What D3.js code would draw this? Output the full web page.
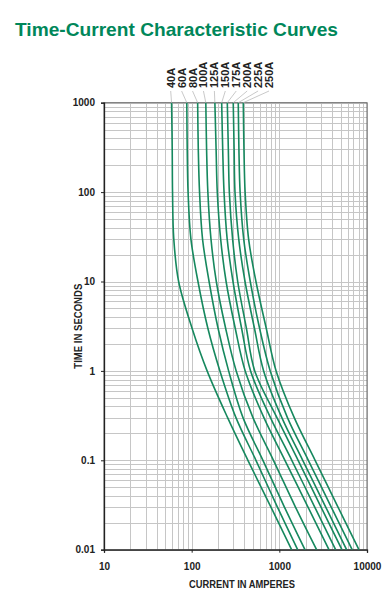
<!DOCTYPE html>
<html>
<head>
<meta charset="utf-8">
<script src="https://cdn.jsdelivr.net/npm/d3@7"></script>
<style>
  body { margin: 0; background: #fff; }
  svg text { font-family: "Liberation Sans", Arial, sans-serif; font-weight: bold; }
</style>
</head>
<body>
<svg id="chart" width="389" height="603"></svg>
<script>
const times = [1000, 300, 100, 30, 10, 3, 1, 0.3, 0.1, 0.03, 0.01];

// Fuse ratings, left to right
const fuseNames = ["40A", "60A", "80A", "100A", "125A", "150A", "175A", "200A", "225A", "250A"];

// Current (A) for each fuse at the times above
const amps40A  = [59, 60, 60.5, 62.5, 71, 101, 150, 257, 438, 802, 1380];
const amps60A  = [88, 89, 91, 98, 118, 153, 210, 320, 541, 951, 1617];
const amps80A  = [117, 119, 123, 133, 158, 200, 264, 385, 650, 1143, 1960];
const amps100A = [145, 148, 153, 166, 191, 244, 322, 500, 857, 1527, 2660];
const amps125A = [184, 190, 196, 214, 247, 314, 408, 667, 1158, 2123, 3680];
const amps150A = [220, 226, 234, 254, 296, 371, 470, 792, 1388, 2533, 4385];
const amps175A = [255, 262, 269, 293, 335, 421, 524, 939, 1638, 2989, 5175];
const amps200A = [298, 305, 312, 344, 406, 520, 662, 1068, 1849, 3381, 5850];
const amps225A = [340, 346, 357, 392, 466, 595, 787, 1237, 2141, 3907, 6770];
const amps250A = [388, 395, 407, 446, 541, 709, 919, 1479, 2559, 4667, 8085];

const xTickLabels = [10, 100, 1000, 10000];
const yTickLabels = [0.01, 0.1, 1, 10, 100, 1000];

const seriesAmps = [amps40A, amps60A, amps80A, amps100A, amps125A, amps150A, amps175A, amps200A, amps225A, amps250A];

const green = "#16885e";
const svg = d3.select("#chart");

// plot box
const plotL = 104, plotR = 367, plotT = 102.7, plotB = 549.7;

const x = d3.scaleLog().domain([10, 10000]).range([plotL, plotR]);
const y = d3.scaleLog().domain([0.01, 1000]).range([plotB, plotT]);

// Title
svg.append("text")
  .attr("x", 15).attr("y", 36)
  .attr("font-size", 19)
  .attr("fill", "#00875a")
  .attr("textLength", 323)
  .attr("lengthAdjust", "spacingAndGlyphs")
  .text("Time-Current Characteristic Curves");

// Grid
const grid = svg.append("g").attr("stroke", "#c6c6c6").attr("stroke-width", 1);
grid.selectAll(".vx").data(x.ticks()).enter().append("line")
  .attr("x1", d => Math.round(x(d)) + 0.5).attr("x2", d => Math.round(x(d)) + 0.5)
  .attr("y1", plotT).attr("y2", plotB);
grid.selectAll(".hy").data(y.ticks()).enter().append("line")
  .attr("y1", d => Math.round(y(d)) + 0.5).attr("y2", d => Math.round(y(d)) + 0.5)
  .attr("x1", plotL).attr("x2", plotR);

// Frame
svg.append("rect")
  .attr("x", plotL).attr("y", plotT)
  .attr("width", plotR - plotL).attr("height", plotB - plotT)
  .attr("fill", "none").attr("stroke", "#666").attr("stroke-width", 1);

// Axes
const xAxis = svg.append("g")
  .attr("transform", `translate(0,${plotB})`)
  .call(d3.axisBottom(x).tickValues(xTickLabels).tickFormat(d => String(d)).tickSize(3).tickPadding(10));
const yAxis = svg.append("g")
  .attr("transform", `translate(${plotL},0)`)
  .call(d3.axisLeft(y).tickValues(yTickLabels).tickFormat(d => String(d)).tickSize(3).tickPadding(6));
[xAxis, yAxis].forEach(ax => {
  ax.select(".domain").attr("stroke", "#222").attr("stroke-width", 1.3);
  ax.selectAll(".tick line").attr("stroke", "#222");
  ax.selectAll("text").attr("font-size", 10).attr("fill", "#222")
    .style("font-family", '"Liberation Sans", Arial, sans-serif').style("font-weight", "bold");
});

// Axis titles
svg.append("text")
  .attr("x", 242).attr("y", 587.5)
  .attr("text-anchor", "middle")
  .attr("font-size", 11).attr("fill", "#222")
  .attr("textLength", 106).attr("lengthAdjust", "spacingAndGlyphs")
  .text("CURRENT IN AMPERES");
svg.append("text")
  .attr("transform", `translate(81.5,${(plotT + plotB) / 2}) rotate(-90)`)
  .attr("text-anchor", "middle")
  .attr("font-size", 11).attr("fill", "#222")
  .attr("textLength", 85).attr("lengthAdjust", "spacingAndGlyphs")
  .text("TIME IN SECONDS");

// Curves
const line = d3.line()
  .x(d => x(d[0]))
  .y(d => y(d[1]))
  .curve(d3.curveCatmullRom.alpha(0.5));

svg.append("g").selectAll("path")
  .data(seriesAmps)
  .enter().append("path")
  .attr("d", amps => line(amps.map((a, i) => [a, times[i]])))
  .attr("fill", "none")
  .attr("stroke", green)
  .attr("stroke-width", 1.6);

// Rotated fuse labels + leader lines
const labelX = d3.scalePoint().domain(fuseNames).range([170.7, 269]);

svg.append("g").selectAll("line")
  .data(fuseNames)
  .enter().append("line")
  .attr("x1", d => labelX(d)).attr("y1", 91)
  .attr("x2", (d, i) => x(seriesAmps[i][0])).attr("y2", plotT)
  .attr("stroke", "#bbb").attr("stroke-width", 0.8);

svg.append("g").selectAll("text")
  .data(fuseNames)
  .enter().append("text")
  .attr("transform", d => `translate(${labelX(d)},88) rotate(-90)`)
  .attr("dy", "0.36em")
  .attr("font-size", 11)
  .attr("fill", "#222")
  .text(d => d);
</script>
</body>
</html>
